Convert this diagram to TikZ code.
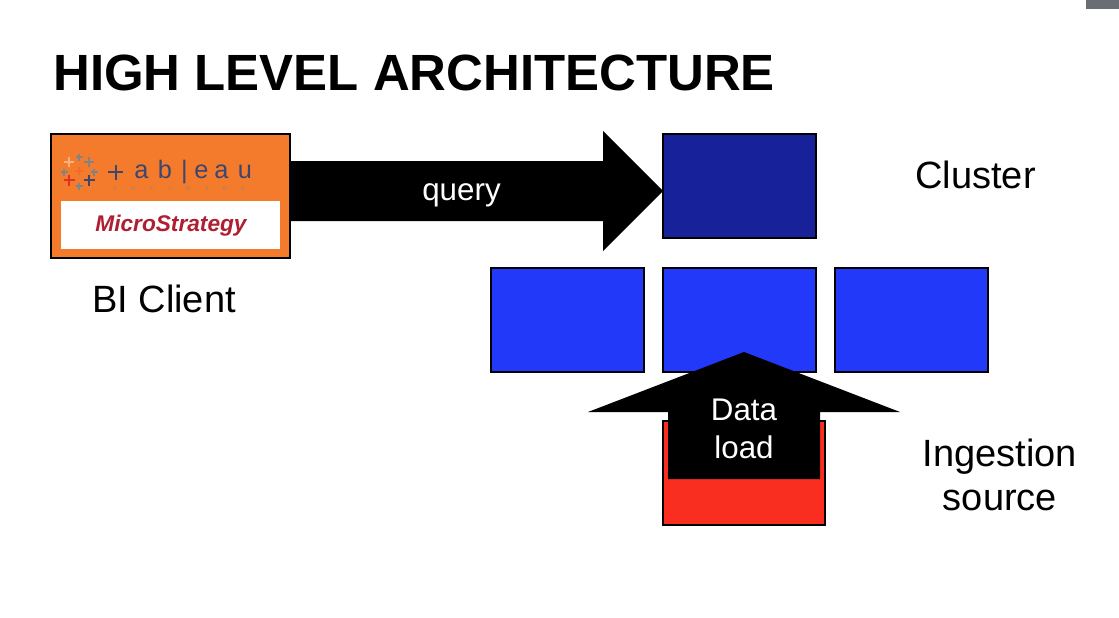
\documentclass[tikz,border=0pt]{standalone}
\usepackage{fontspec}
\setmainfont{Liberation Sans}
\definecolor{clientorange}{RGB}{244,123,44}
\definecolor{clusterdark}{RGB}{22,33,154}
\definecolor{clusterblue}{RGB}{35,57,250}
\definecolor{sourcered}{RGB}{249,45,32}
\definecolor{tabgrey}{RGB}{126,132,138}
\definecolor{tabnavy}{RGB}{62,70,110}
\definecolor{tabred}{RGB}{222,50,40}
\definecolor{mstrred}{RGB}{176,30,50}
\definecolor{cornergrey}{RGB}{104,110,116}
\tikzset{
  box/.style={draw=black,line width=1.5pt,inner sep=0pt,anchor=north west},
  biglabel/.style={inner sep=0pt,align=center,font=\fontsize{28.5}{42}\selectfont},
  arrowlabel/.style={inner sep=0pt,align=center,text=white,font=\fontsize{23.5}{29}\selectfont},
  bigarrow/.style={fill=black,draw=none},
  tabletter/.style={inner sep=0pt,anchor=base,text=tabnavy,font=\fontsize{19}{20}\selectfont},
  softletter/.style={inner sep=0pt,anchor=base,text=tabgrey!70!clientorange,font=\fontsize{4}{5}\selectfont}
}
\begin{document}
\begin{tikzpicture}[x=0.75pt,y=0.75pt,yscale=-1,xscale=1]
\useasboundingbox (0,0) rectangle (1119,617);
%corner tab
\fill[cornergrey] (1086,0) rectangle (1119,9);

% Title
\node (title) [anchor=west,inner sep=0pt,font=\fontsize{38.2}{46}\bfseries\selectfont] at (53,73) {HIGH LEVEL ARCHITECTURE};

%BI client box
\node (client) [box,fill=clientorange,minimum width=179.3pt,minimum height=93pt] at (49.5,133) {};
\node (mstrbox) [inner sep=0pt,fill=white,anchor=north west,minimum width=164pt,minimum height=36pt] at (61,201) {};
\node (mstr) [inner sep=0pt,text=mstrred,font=\fontsize{17}{18}\bfseries\itshape\selectfont] at (171,225.5) {MicroStrategy};
%tableau word
\foreach \lx/\lt [count=\li] in {141.5/a,165/b,184.5/|,201.5/e,221.5/a,245/u}
  \node (tab\li) [tabletter] at (\lx,178.5) {\lt};
\foreach \lx/\lt [count=\li] in {115/S,133/O,152/F,170/T,188/W,207/A,225/R,243/E}
  \node (soft\li) [softletter] at (\lx,190) {\lt};
%tableau marks
\foreach \px/\py/\pr/\pw/\pc in {115.5/172/7.5/1.5/tabnavy,69/162/5/1/clientorange!60!white,79/157/3.5/1/tabgrey,89/162/5/1/tabgrey,64/172/3.5/1/tabgrey,94/172/3.5/1/tabgrey,69/180/5.5/1.2/tabred,79/186/3.5/1/tabgrey,89/180/5.5/1.2/tabnavy,79/171/4/1/clientorange!80!tabred}
  \draw [\pc,line width=\pw pt] (\px-\pr,\py) -- (\px+\pr,\py) (\px,\py-\pr) -- (\px,\py+\pr);

%Cluster boxes
\node (top) [box,fill=clusterdark,minimum width=115pt,minimum height=78.2pt] at (661.5,133) {};
\node (left) [box,fill=clusterblue,minimum width=115pt,minimum height=78.5pt] at (489.5,266.5) {};
\node (mid) [box,fill=clusterblue,minimum width=115pt,minimum height=78.5pt] at (661.5,266.5) {};
\node (right) [box,fill=clusterblue,minimum width=115pt,minimum height=78.5pt] at (833.5,266.5) {};

%Ingestion box
\node (source) [box,fill=sourcered,minimum width=121.5pt,minimum height=78.5pt] at (662,419.5) {};

%query arrow
\fill[bigarrow] (290,161) -- (603,161) -- (603,131) -- (663,191) -- (603,251) -- (603,221) -- (290,221) -- cycle;
%load arrow
\fill[bigarrow] (668,479) -- (668,412) -- (588,412) -- (744,352) -- (900,412) -- (820,412) -- (820,479) -- cycle;

% Text Node
\node (query) [arrowlabel] at (461.5,195.5) {query};
\node (load) [arrowlabel] at (744,429) {Data\\load};
\node (clientlabel) [biglabel] at (164,299) {BI Client};
\node (clusterlabel) [biglabel] at (975.5,175) {Cluster};
\node (sourcelabel) [biglabel,font=\fontsize{28.5}{33}\selectfont] at (1000,475) {Ingestion\\source};
\end{tikzpicture}
\end{document}
